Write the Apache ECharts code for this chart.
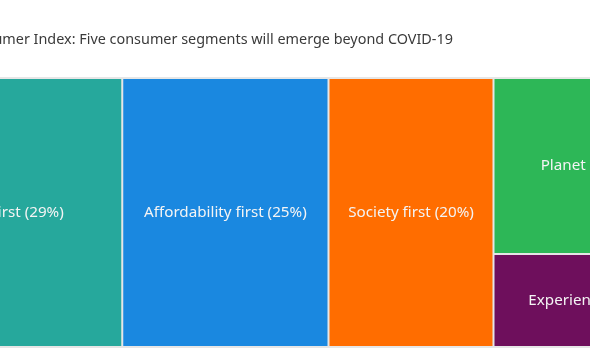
<!DOCTYPE html>
<html>
<head>
<meta charset="utf-8">
<script src="https://cdn.jsdelivr.net/npm/echarts@6/dist/echarts.min.js"></script>
<style>
  html, body { margin: 0; padding: 0; background: #ffffff; }
  #chart { width: 590px; height: 354px; }
</style>
</head>
<body>
<div id="chart"></div>
<script>
// Segments of the consumer index (share of consumers, %)
const segments = ['Health first', 'Affordability first', 'Society first', 'Planet first', 'Experience first']
const shares = [29, 25, 20, 17, 9]
const colors = ['#26a89c', '#1a88e0', '#ff6d00', '#2db757', '#6e0f5c']

const chart = echarts.init(document.getElementById('chart'))

chart.setOption({
  animation: false,
  title: {
    text: 'EY Future Consumer Index: Five consumer segments will emerge beyond COVID-19',
    left: -113,
    top: 28,
    textStyle: { color: '#3a3a3a', fontSize: 14.4, fontWeight: 'normal', fontFamily: 'Noto Sans' }
  },
  series: [{
    type: 'treemap',
    left: -118,
    top: 77,
    width: 827,
    height: 271,
    squareRatio: 1,
    roam: false,
    nodeClick: false,
    breadcrumb: { show: false },
    label: {
      show: true,
      position: 'inside',
      align: 'center',
      verticalAlign: 'middle',
      color: '#f4f4f4',
      fontSize: 15.2,
      fontFamily: 'Noto Sans',
      formatter: p => `${p.name} (${p.value}%)`
    },
    itemStyle: { borderColor: '#e6e6e6', borderWidth: 1, gapWidth: 0 },
    data: segments.map((name, i) => ({
      name,
      value: shares[i],
      itemStyle: { color: colors[i] }
    }))
  }]
})
</script>
</body>
</html>
